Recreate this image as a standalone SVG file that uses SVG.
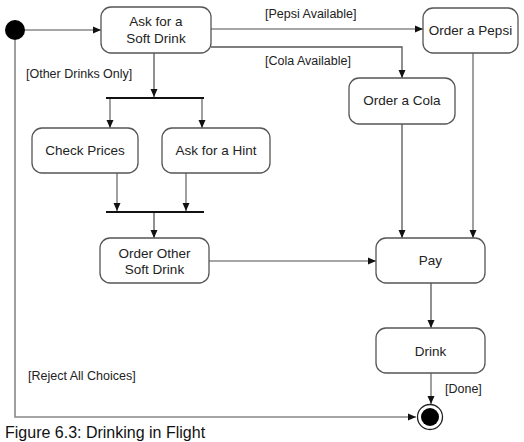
<svg xmlns="http://www.w3.org/2000/svg" width="524" height="442" viewBox="0 0 524 442">
<style>
.node rect{fill:#fff;stroke:#555;stroke-width:1.3}
.lbl{font-family:"Liberation Sans",Arial,sans-serif;font-size:13.5px;fill:#222;text-anchor:middle}
.grd{font-family:"Liberation Sans",Arial,sans-serif;font-size:12.5px;fill:#222}
.c{fill:none;stroke:#888;stroke-width:1.6}
.cd{fill:none;stroke:#555;stroke-width:1.3}
.bar{stroke:#111;stroke-width:2}
</style>
<defs>
<marker id="ah" viewBox="0 0 8 8" refX="8" refY="4" markerWidth="8" markerHeight="8" markerUnits="userSpaceOnUse" orient="auto">
<path d="M0,0.5 L8,4 L0,7.5 Z" fill="#111"/>
</marker>
</defs>
<rect width="524" height="442" fill="#fff"/>
<g id="connectors">
<path class="c" d="M25,30 H101" marker-end="url(#ah)"/>
<path class="c" d="M15,40 V417 H416" marker-end="url(#ah)"/>
<path class="c" d="M211,29 H423" marker-end="url(#ah)"/>
<path class="cd" d="M211,47 H402 V78" marker-end="url(#ah)"/>
<path class="cd" d="M154,53 V97" marker-end="url(#ah)"/>
<line class="bar" x1="106" y1="98" x2="204" y2="98"/>
<path class="c" d="M110,99 V128" marker-end="url(#ah)"/>
<path class="c" d="M202,99 V128" marker-end="url(#ah)"/>
<path class="c" d="M117,173 V211" marker-end="url(#ah)"/>
<path class="c" d="M186,173 V211" marker-end="url(#ah)"/>
<line class="bar" x1="106" y1="212" x2="204" y2="212"/>
<path class="cd" d="M154,213 V238" marker-end="url(#ah)"/>
<path class="c" d="M209,261 H376" marker-end="url(#ah)"/>
<path class="cd" d="M402,124 V238" marker-end="url(#ah)"/>
<path class="c" d="M473,53 V238" marker-end="url(#ah)"/>
<path class="cd" d="M431,283 V328" marker-end="url(#ah)"/>
<path class="c" d="M431,373 V404" marker-end="url(#ah)"/>
</g>
<g id="guards">
<text class="grd" x="265" y="18">[Pepsi Available]</text>
<text class="grd" x="265" y="65">[Cola Available]</text>
<text class="grd" x="26" y="78">[Other Drinks Only]</text>
<text class="grd" x="28" y="380">[Reject All Choices]</text>
<text class="grd" x="445" y="393">[Done]</text>
</g>
<g id="start"><circle cx="15" cy="30" r="10" fill="#000"/></g>
<g id="ask" class="node"><rect x="101" y="7" width="110" height="46" rx="10"/>
<text class="lbl" x="156" y="26">Ask for a</text><text class="lbl" x="156" y="43">Soft Drink</text></g>
<g id="pepsi" class="node"><rect x="423" y="8" width="95" height="45" rx="10"/>
<text class="lbl" x="470.5" y="35">Order a Pepsi</text></g>
<g id="cola" class="node"><rect x="349" y="78" width="106" height="46" rx="10"/>
<text class="lbl" x="402" y="105">Order a Cola</text></g>
<g id="check" class="node"><rect x="32" y="128" width="106" height="45" rx="10"/>
<text class="lbl" x="85" y="155">Check Prices</text></g>
<g id="hint" class="node"><rect x="162" y="128" width="108" height="45" rx="10"/>
<text class="lbl" x="216" y="155">Ask for a Hint</text></g>
<g id="other" class="node"><rect x="100" y="238" width="109" height="45" rx="10"/>
<text class="lbl" x="154.5" y="258">Order Other</text><text class="lbl" x="154.5" y="274">Soft Drink</text></g>
<g id="pay" class="node"><rect x="376" y="238" width="109" height="45" rx="10"/>
<text class="lbl" x="430.5" y="265">Pay</text></g>
<g id="drink" class="node"><rect x="376" y="328" width="109" height="45" rx="10"/>
<text class="lbl" x="430.5" y="356">Drink</text></g>
<g id="end"><circle cx="430" cy="417" r="12.5" fill="#fff" stroke="#222" stroke-width="1.3"/><circle cx="430" cy="417" r="9" fill="#000"/></g>
<text x="5" y="437.5" font-family="'Liberation Sans',Arial,sans-serif" font-size="16" fill="#111">Figure 6.3: Drinking in Flight</text>
</svg>
